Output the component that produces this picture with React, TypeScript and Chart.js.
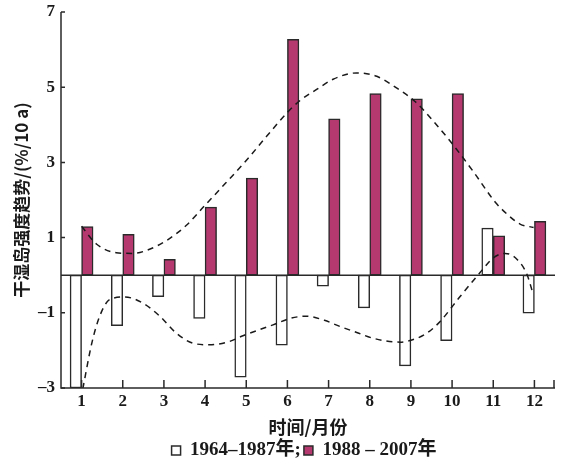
import React, { useEffect, useRef } from "react";
import { Chart, registerables } from "chart.js";

Chart.register(...registerables);

const months = ["1", "2", "3", "4", "5", "6", "7", "8", "9", "10", "11", "12"];
const trend1964 = [-3.0, -1.34, -0.57, -1.15, -2.71, -1.86, -0.29, -0.87, -2.41, -1.74, 1.25, -1.01];
const trend1988 = [1.29, 1.09, 0.42, 1.81, 2.58, 6.27, 4.16, 4.83, 4.69, 4.83, 1.05, 1.43];
const yTicks = [-3, -1, 1, 3, 5, 7];
const yTickLabels = ["–3", "–1", "1", "3", "5", "7"];

const upperX = [1, 1.36, 1.84, 2.25, 2.65, 3.06, 3.54, 3.99, 4.5, 5, 5.5, 6, 6.3, 6.71, 7.11, 7.68, 8.17, 8.65, 9.1, 9.55, 10.03, 10.52, 11.05, 11.33, 11.65, 11.98];
const upperY = [1.3, 0.83, 0.6, 0.58, 0.69, 0.92, 1.32, 1.85, 2.45, 3.05, 3.7, 4.33, 4.64, 4.94, 5.21, 5.38, 5.29, 4.98, 4.62, 4.09, 3.46, 2.75, 1.94, 1.63, 1.36, 1.27];

const lowerX = [1.03, 1.25, 1.44, 1.68, 2.05, 2.49, 2.9, 3.3, 3.71, 4.11, 4.6, 4.92, 5.65, 6.1, 6.46, 6.9, 7.27, 7.7, 8.09, 8.74, 9.14, 9.39, 9.71, 10.2, 10.68, 11.01, 11.29, 11.58, 11.82, 11.96];
const lowerY = [-3.02, -1.8, -1.09, -0.65, -0.58, -0.74, -1.09, -1.54, -1.81, -1.85, -1.76, -1.61, -1.32, -1.14, -1.09, -1.2, -1.36, -1.53, -1.68, -1.78, -1.68, -1.54, -1.23, -0.56, 0.07, 0.47, 0.58, 0.42, 0.02, -0.47];

const AXIS = "#2a2a2a";
const MAGENTA = "#b5386f";

const axesPlugin = {
  id: "axesDraw",
  beforeDatasetsDraw(chart: any) {
    const { ctx, chartArea, scales } = chart;
    const y0 = scales.y.getPixelForValue(0);
    ctx.save();
    ctx.strokeStyle = AXIS;
    ctx.lineWidth = 1.5;
    ctx.beginPath();
    ctx.moveTo(chartArea.left, y0);
    ctx.lineTo(chartArea.right, y0);
    ctx.stroke();
    ctx.restore();
  },
  afterDatasetsDraw(chart: any) {
    const { ctx, chartArea, scales } = chart;
    const { left, right, top, bottom } = chartArea;
    ctx.save();
    ctx.strokeStyle = AXIS;
    ctx.lineWidth = 1.5;
    ctx.beginPath();
    ctx.moveTo(left, top);
    ctx.lineTo(left, bottom);
    ctx.lineTo(right, bottom);
    ctx.stroke();
    ctx.beginPath();
    yTicks.forEach((v) => {
      const py = scales.y.getPixelForValue(v);
      ctx.moveTo(left, py);
      ctx.lineTo(left + 4, py);
    });
    months.forEach((_, i) => {
      const px = scales.x.getPixelForTick(i);
      ctx.moveTo(px, bottom);
      ctx.lineTo(px, bottom - 8);
    });
    ctx.moveTo(right - 1, bottom);
    ctx.lineTo(right - 1, bottom - 8);
    ctx.stroke();
    ctx.restore();
  },
  afterLayout(chart: any) {
    const lg = chart.legend;
    if (lg) {
      const w = lg.right - lg.left;
      const shift = chart.chartArea.left + (chart.chartArea.right - chart.chartArea.left) / 2 - (lg.left + w / 2) - 4;
      lg.left += shift;
      lg.right += shift;
    }
  },
};

export default function App() {
  const ref = useRef<HTMLCanvasElement>(null);
  useEffect(() => {
    if (!ref.current) return;
    const serif = "'Liberation Serif', 'Noto Sans CJK SC', serif";
    const cjk = "'Noto Sans CJK SC', sans-serif";
    const chart = new Chart(ref.current, {
      type: "bar",
      data: {
        labels: months,
        datasets: [
          {
            type: "line",
            label: "upper",
            data: upperX.map((x, i) => ({ x, y: upperY[i] })),
            borderColor: "#1a1a1a",
            borderWidth: 1.5,
            borderDash: [6, 5],
            pointRadius: 0,
            fill: false,
            cubicInterpolationMode: "monotone",
            stack: "a",
            xAxisID: "x2",
            yAxisID: "y",
          },
          {
            type: "line",
            label: "lower",
            data: lowerX.map((x, i) => ({ x, y: lowerY[i] })),
            borderColor: "#1a1a1a",
            borderWidth: 1.5,
            borderDash: [6, 5],
            pointRadius: 0,
            fill: false,
            cubicInterpolationMode: "monotone",
            stack: "b",
            xAxisID: "x2",
            yAxisID: "y",
          },
          {
            type: "bar",
            label: "1964–1987年;",
            data: trend1964,
            backgroundColor: "#ffffff",
            borderColor: AXIS,
            borderWidth: 1.5,
            borderSkipped: false,
            barThickness: 11.5,
            stack: "a",
            xAxisID: "x",
            yAxisID: "y",
          },
          {
            type: "bar",
            label: "1988 – 2007年",
            data: trend1988,
            backgroundColor: MAGENTA,
            borderColor: AXIS,
            borderWidth: 1.5,
            borderSkipped: false,
            barThickness: 11.5,
            stack: "b",
            xAxisID: "x",
            yAxisID: "y",
          },
        ] as any,
      },
      options: {
        animation: false,
        responsive: true,
        maintainAspectRatio: false,
        layout: { padding: { left: 0, right: 10, top: 0, bottom: 0 } },
        plugins: {
          tooltip: { enabled: false },
          legend: {
            position: "bottom",
            maxHeight: 26,
            labels: {
              boxWidth: 9,
              boxHeight: 9,
              padding: 3,
              color: "#1a1a1a",
              font: { family: serif, size: 19, weight: "bold" },
              filter: (item: any) => item.datasetIndex >= 2,
            },
          },
        },
        scales: {
          x: {
            type: "category",
            offset: true,
            grid: { display: false, drawTicks: false, offset: false },
            border: { display: false },
            ticks: {
              color: "#1a1a1a",
              padding: 3,
              font: { family: serif, size: 17, weight: "bold" },
              maxRotation: 0,
            },
            title: {
              display: true,
              text: "时间/月份",
              color: "#1a1a1a",
              font: { family: cjk, size: 18, weight: "bold" },
              padding: { top: 0, bottom: 0 },
            },
            afterFit: (s: any) => {
              s.height = 50;
            },
          },
          x2: {
            type: "linear",
            display: false,
            offset: false,
            min: 0.5,
            max: 12.5,
          },
          y: {
            type: "linear",
            min: -3,
            max: 7,
            stacked: false,
            grid: { display: false, drawTicks: false },
            border: { display: false },
            afterBuildTicks: (s: any) => {
              s.ticks = yTicks.map((v) => ({ value: v }));
            },
            ticks: {
              color: "#1a1a1a",
              padding: 6,
              font: { family: serif, size: 17, weight: "bold" },
              callback: (v: any) => {
                const i = yTicks.indexOf(Number(v));
                return i >= 0 ? yTickLabels[i] : String(v);
              },
            },
            title: {
              display: true,
              text: "干湿岛强度趋势/(%/10 a)",
              color: "#1a1a1a",
              font: { family: cjk, size: 17, weight: "bold" },
              padding: { top: 11, bottom: 0 },
            },
            afterFit: (s: any) => {
              s.width = 61;
              s.paddingTop = 12;
              s.paddingBottom = 0;
            },
          },
        },
      },
      plugins: [axesPlugin],
    });
    return () => chart.destroy();
  }, []);
  return (
    <div style={{ position: "absolute", left: 0, top: 0, width: 565, height: 464 }}>
      <canvas ref={ref} />
    </div>
  );
}
